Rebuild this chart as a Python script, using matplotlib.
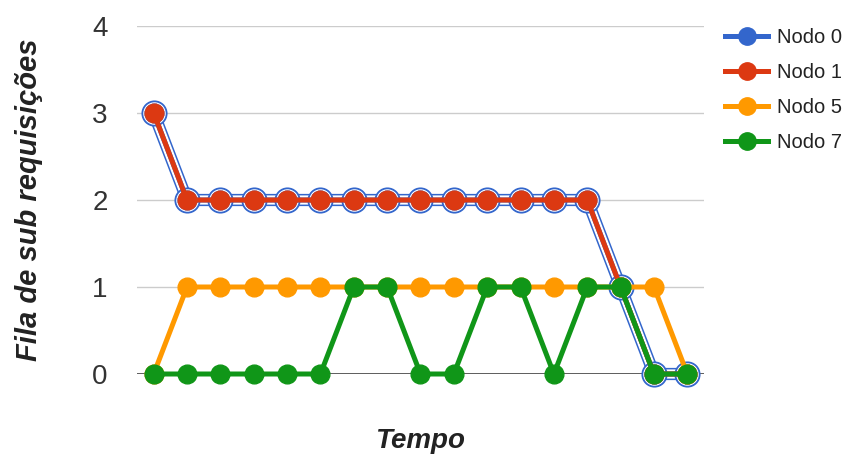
import numpy as np
import matplotlib.pyplot as plt
from matplotlib.lines import Line2D

plt.rcParams['font.family'] = ['Liberation Sans', 'DejaVu Sans']

# Dados
tempo = np.arange(17)
nodo0 = [3, 2, 2, 2, 2, 2, 2, 2, 2, 2, 2, 2, 2, 2, 1, 0, 0]
nodo1 = [3, 2, 2, 2, 2, 2, 2, 2, 2, 2, 2, 2, 2, 2, 1, 0, 0]
nodo5 = [0, 1, 1, 1, 1, 1, 1, 1, 1, 1, 1, 1, 1, 1, 1, 1, 0]
nodo7 = [0, 0, 0, 0, 0, 0, 1, 1, 0, 0, 1, 1, 0, 1, 1, 0, 0]
nomes = ['Nodo 0', 'Nodo 1', 'Nodo 5', 'Nodo 7']
cores = ['#3366cc', '#dc3912', '#ff9900', '#109618']
yticks = [0, 1, 2, 3, 4]

fig = plt.figure(figsize=(8.45, 4.58), dpi=100)
ax = fig.add_axes([137 / 845, 84 / 458, 567 / 845, 348 / 458])

# destaque do Nodo 0 (contorno azul com anel branco)
ax.plot(tempo, nodo0, color=cores[0], lw=8.8, zorder=2, clip_on=False)
ax.plot(tempo, nodo0, color='white', lw=6.6, zorder=2, clip_on=False)
ax.plot(tempo, nodo0, ls='none', marker='o', ms=17.5, mfc='white',
        mec=cores[0], mew=1.3, zorder=2, clip_on=False)

series = [nodo0, nodo1, nodo5, nodo7]
for i, (s, c) in enumerate(zip(series, cores)):
    ax.plot(tempo, s, color=c, lw=3.6, marker='o', ms=13.5, mec=c,
            zorder=3 + i, clip_on=False)

ax.set_xlim(-0.5, 16.5)
ax.set_ylim(0, 4)
ax.set_yticks(yticks)
ax.set_xticks([])
ax.grid(axis='y', color='#cccccc', lw=1)
ax.axhline(0, color='#444444', lw=1.2, zorder=1.5)
for sp in ax.spines.values():
    sp.set_visible(False)
ax.tick_params(axis='y', length=0, pad=21, labelsize=20, labelcolor='#333333')
ax.set_axisbelow(True)

ax.set_ylabel('Fila de sub requisições', fontsize=21, fontweight='bold',
              fontstyle='italic', color='#222222')
ax.yaxis.set_label_coords(-0.166, 0.5)
ax.set_xlabel('Tempo', fontsize=20, fontweight='bold', fontstyle='italic',
              color='#222222')
ax.xaxis.set_label_coords(0.5, -0.155)

handles = [Line2D([], [], color=c, lw=3.6, marker='o', ms=12.5, mec=c) for c in cores]
fig.legend(handles, nomes, loc='upper left', bbox_to_anchor=(725 / 845, 1 - 28 / 458),
           frameon=False, fontsize=14.5, handlelength=2.15, handletextpad=0.45,
           labelspacing=0.8, borderpad=0, borderaxespad=0, labelcolor='#222222')

plt.savefig('out.png', dpi=100)
